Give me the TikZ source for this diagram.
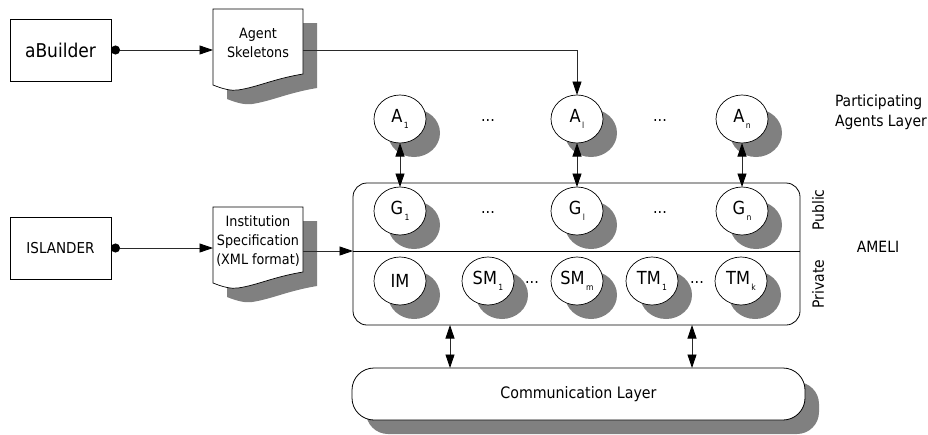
\documentclass[tikz,border=0pt]{standalone}
\usepackage{fontspec}
\setmainfont{DejaVu Sans Condensed}
\usetikzlibrary{shapes.geometric,arrows.meta,shadows}
\definecolor{shadowgrey}{HTML}{808080}
\definecolor{wiregrey}{HTML}{2A2A2A}
\newcommand{\lowsub}[1]{\raisebox{-5.5pt}{\fontsize{8.5}{8.5}\selectfont\,#1}}
\newcommand{\fs}[1]{\fontsize{#1}{#1}\selectfont}

\begin{document}
\begin{tikzpicture}[x=1pt,y=-1pt,
  >={Triangle[length=13.5pt,width=9pt,color=black]},
  every node/.style={inner sep=0pt,outer sep=0pt},
  tool/.style={draw,line width=0.8pt,minimum width=101pt,minimum height=62pt},
  hardshadow/.style={drop shadow={shadow xshift=14pt,shadow yshift=-14pt,
      opacity=1,fill=shadowgrey,draw=none}},
  agent/.style={ellipse,draw,fill=white,line width=0.7pt,minimum width=52pt,
      minimum height=48pt,font=\fs{18},hardshadow},
  docarea/.style={minimum width=90pt,minimum height=76pt,anchor=north west},
  doctext/.style={align=center,font=\fontsize{14.2}{19}\selectfont},
  label/.style={font=\fs{15.5}},
  dots/.style={font=\fs{16}},
  wire/.style={draw=wiregrey,line width=0.85pt},
  arr/.style={wire,->},
  dotarr/.style={wire,{Circle[length=9pt,color=black]}->},
  dblarr/.style={wire,<->},
  docpage/.pic={
    \fill[shadowgrey] (14,14) -- (104,14) -- (104,79)
      .. controls (74,84) and (59,92) .. (39,95)
      .. controls (32,96) and (24,94) .. (14,90) -- cycle;
    \draw[fill=white,line width=0.7pt] (0,0) -- (90,0) -- (90,65)
      .. controls (60,70) and (45,78) .. (25,81)
      .. controls (18,82) and (10,80) .. (0,76) -- cycle;
  }]
\useasboundingbox (0,0) rectangle (928,434);

% tools on the left
\node[tool,font=\fs{19}] (ab) at (60.5,50) {aBuilder};
\node[tool,font=\fs{15}] (isl) at (60.5,248) {ISLANDER};

% documents
\pic at (213,9) {docpage};
\node[docarea] (skel) at (213,9) {};
\node[doctext] (skeltxt) at (258,42.5) {Agent\\Skeletons};
\pic at (213,207) {docpage};
\node[docarea] (inst) at (213,207) {};
\node[doctext] (insttxt) at (258,241) {Institution\\Specification\\(XML format)};

% AMELI container
\node[draw,line width=0.8pt,rounded corners=14pt,minimum width=447pt,
      minimum height=142pt] (ameli) at (576.5,254) {};
\coordinate (sepL) at (353,251);
\coordinate (sepR) at (800,251);
\draw[line width=0.8pt] (sepL) -- (sepR);

% communication layer
\node[draw,fill=white,line width=0.8pt,rounded corners=22pt,minimum width=453pt,
      minimum height=52pt,font=\fs{15.8},hardshadow] (comm) at (578.5,394) {Communication Layer};

% participating agents
\node[agent] (A1) at (400,119) {A\lowsub{1}};
\node[agent] (Al) at (577,119) {A\lowsub{l}};
\node[agent] (An) at (742,119) {A\lowsub{n}};
\node[dots] (da1) at (488,121) {...};
\node[dots] (da2) at (660,121) {...};

% governors
\node[agent] (G1) at (400,211) {G\lowsub{1}};
\node[agent] (Gl) at (577,211) {G\lowsub{l}};
\node[agent] (Gn) at (742,211) {G\lowsub{n}};
\node[dots] (dg1) at (488,213) {...};
\node[dots] (dg2) at (660,213) {...};

% managers
\node[agent] (IM) at (400,281) {IM};
\node[agent] (SM1) at (488,281) {SM\lowsub{1}};
\node[agent] (SMm) at (577,281) {SM\lowsub{m}};
\node[agent] (TM1) at (652,281) {TM\lowsub{1}};
\node[agent] (TMk) at (741,281) {TM\lowsub{k}};
\node[dots] (dm1) at (532,283) {...};
\node[dots] (dm2) at (697,283) {...};

% side labels
\node[label,rotate=90] (pub) at (818,210) {Public};
\node[label,rotate=90] (priv) at (818,284) {Private};
\node[label] (ameliname) at (878,247) {AMELI};
\node[label,anchor=west,align=left,font=\fontsize{15.5}{20}\selectfont] (pal) at (835,112)
  {Participating\\Agents Layer};

% connectors
\draw[dotarr] (ab.east) -- (ab.east -| skel.west);
\draw[dotarr] (isl.east) -- (isl.east -| inst.west);
\draw[arr] (ab.east -| skel.east) -- (ab.east -| Al.north) -- (Al.north);
\draw[arr] (sepL -| inst.east) -- (sepL);
\draw[dblarr] (A1.south) -- (G1.north);
\draw[dblarr] (Al.south) -- (Gl.north);
\draw[dblarr] (An.south) -- (Gn.north);
\coordinate (c1) at (450,0);
\coordinate (c2) at (692,0);
\draw[dblarr] (c1 |- ameli.south) -- (c1 |- comm.north);
\draw[dblarr] (c2 |- ameli.south) -- (c2 |- comm.north);
\end{tikzpicture}
\end{document}
